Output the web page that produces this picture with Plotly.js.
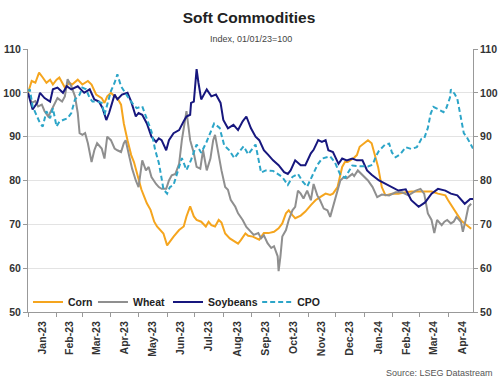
<!DOCTYPE html>
<html>
<head>
<meta charset="utf-8">
<script src="https://cdn.plot.ly/plotly-3.0.1.min.js"></script>
<style>html,body{margin:0;padding:0;background:#fff;}#chart{width:498px;height:381px;}</style>
</head>
<body>
<div id="chart"></div>
<script>
// Observation days, counted from 1 Jan 2023, and index values (01/01/23 = 100)
const cornDays = [0,4,8,12,16,20,24,27,31,34,40,45,48,54,59,65,69,74,80,83,86,90,94,97,101,104,108,112,115,118,123,126,129,133,137,140,144,147,151,155,158,164,169,172,176,180,183,188,193,196,199,203,207,210,214,219,225,228,231,236,239,244,251,256,261,267,272,276,280,283,287,290,296,301,307,312,317,323,328,331,336,338,341,344,347,353,357,360,366,369,373,376,380,384,388,395,402,410,416,424,431,438,445,453,456,461,466,470,475,481];
const cornVals = [100,102.7,102.3,104.6,103.5,102.3,103,101.9,103,103.5,101.2,102.3,101.9,103,101.9,102.7,101.9,99.6,98.8,97.7,99.2,100,99.2,98.8,97.3,93,89.2,85.8,84.2,81.9,78,76.4,74.8,73.3,70.6,69.5,68.7,67.9,65.2,66.4,67.2,68.7,69.5,71.8,74.1,71.8,71,70.6,69.5,70.6,69.8,69.5,71,70.4,67.9,66.8,66,65.6,66.4,67.9,67.4,67.2,66.5,68,68,68.3,69.1,70.2,72.5,73.2,72.1,71.4,72,72.9,74.4,75.5,76.2,77,76.7,77,78.5,80.5,83.1,84.2,84.2,85,85.8,87.7,88.8,89.2,88.5,86.2,83.1,78.5,76.6,77,77,77.3,77.5,77.5,77.5,77.5,77,76.6,75.5,73.9,72.4,70.9,70,69];

const wheatDays = [0,4,8,11,15,18,22,26,29,32,37,40,43,47,51,54,56,59,62,65,69,72,75,80,83,86,90,94,97,101,104,106,110,113,117,120,124,128,131,134,139,142,145,150,153,156,160,164,167,171,172,176,180,183,187,190,194,198,201,203,207,210,214,217,220,225,228,233,237,240,245,250,253,256,260,264,267,271,272,274,276,280,283,287,290,293,296,299,303,307,310,314,317,321,325,328,331,336,339,343,346,352,354,358,363,369,374,379,384,392,399,406,413,421,426,430,434,438,441,444,449,452,455,459,462,465,470,472,475,478,481];
const wheatVals = [100,97.7,98.1,96.9,97.3,95.8,94.6,96.2,97.7,98.8,98,99.2,103.1,101.5,99.2,95.4,90.8,90.4,90.8,88.5,84.2,86.9,88.5,87.3,85,90,89.2,87.3,86.9,86.5,88.5,89.2,85.4,82.7,80,78.5,84.6,82.3,83.1,80.8,79.2,78.5,78.1,78.1,80,81.2,81.5,83.8,89.2,95.4,95.8,89.2,86.2,83.1,82.7,86.9,82.3,85,89.2,90.4,85.4,82.3,78.5,77.9,75.6,74,72.5,71,69.4,68.7,67.6,68,66.8,67.5,65.7,64.6,65,62.7,59.3,62.7,67.2,68.7,71,73.2,74,77.7,77,75.9,77.7,75.5,79.2,76.6,75.5,73.6,73.2,71.7,74,77.7,80,80.8,80.5,81.5,81,82.3,81.2,80,78.5,76.2,76.8,76.6,77.3,77.3,76.6,77.7,78.1,77,72.5,71,68,71,69.8,70.6,71,70.2,70.6,71.7,70.5,68.3,71,74,74.7];

const soyDays = [0,4,5,10,13,18,24,27,32,38,42,47,54,61,67,72,77,81,85,88,94,97,102,108,112,117,120,124,129,134,139,142,145,150,153,158,164,169,172,176,177,180,183,185,188,194,199,204,209,212,217,223,228,233,237,242,247,251,256,261,266,272,278,282,285,290,296,301,307,310,315,319,323,326,331,337,341,346,352,357,363,368,373,381,388,395,402,410,416,424,431,438,445,453,459,466,474,480,483];
const soyVals = [100,96.9,96.2,97.7,100,98.8,98,100.8,101.2,100,101.5,100.8,101.5,100,100.8,98.5,98,96.5,93.8,95.4,99.6,98.5,99.6,100,98,94.6,95.4,95,93,90,88.8,89.6,89.2,86.9,89.2,90.8,91.5,93.5,94.6,95,97.7,98,105.4,102.3,98.5,100.8,99.2,99.6,97.7,93.8,91.9,92.7,91.5,93.5,94.6,91.9,90,89.2,86.9,85.8,84.6,83.5,81.9,81.5,82.3,84.6,83.5,83.5,86.2,87,89.2,88.8,89.2,86.9,86.5,83.8,85,84.6,85,84.6,84.6,82.3,81.3,80,79.2,78.5,77.7,78,75.5,74,75,77,78.1,77.7,77,76.6,74.7,75.8,75.8];

const cpoDays = [0,2,5,10,13,16,20,24,27,31,34,38,43,47,51,56,59,63,67,70,75,80,83,86,90,94,97,101,104,108,113,118,124,128,132,134,138,142,145,147,151,154,158,161,167,172,177,183,188,194,199,202,208,213,218,224,229,234,239,244,247,253,258,266,271,276,282,287,293,298,303,309,314,319,325,328,333,339,344,348,352,357,363,369,374,378,381,388,392,395,399,404,410,416,422,427,430,434,437,440,445,451,454,458,459,463,466,470,473,476,480,483];
const cpoVals = [100.4,100.8,96.9,94.6,93.1,92.3,95.8,94.2,96.5,92.3,93.4,93.8,94.2,95.4,98.5,99.6,101.2,100.8,98.8,98,98,97.7,95,97.3,100.4,102.3,104.2,101.5,100.4,99.2,97.7,96.5,96.9,94.6,92.2,91.2,87,84,80.5,78,77,78.5,79,80.9,85.1,82.4,84.7,88.2,86.3,88.9,91.5,93,92,88,87,85.1,86.5,87.8,86,87.3,88.2,81.8,82.3,82.2,81.5,80.8,79,80.8,81.5,79.8,78.6,81.5,83.5,85,85.3,85.5,84.2,81.3,80.6,82,83.4,83.3,83.2,83.2,83.6,85.7,86.8,88.3,88.4,86.4,85.3,86,87.6,87.2,87.6,89.5,89.6,92,95.2,96.8,96.3,95.6,96.5,98.9,100.8,99.8,98.6,94,90.8,90,88.6,87.3];

const seriesNames = ['Corn','Wheat','Soybeans','CPO'];
const yTicks = [50,60,70,80,90,100,110];

function toDates(days) {
  const base = Date.UTC(2023,0,1);
  return days.map(d => new Date(base + d*86400000).toISOString().slice(0,10));
}

const FONT = 'Liberation Sans, Arial, sans-serif';
const colors = {Corn:'#F5A51E', Wheat:'#8F8F8F', Soybeans:'#17177E', CPO:'#2CA5C8'};
const data = {
  Corn:[cornDays,cornVals], Wheat:[wheatDays,wheatVals],
  Soybeans:[soyDays,soyVals], CPO:[cpoDays,cpoVals]
};
const legendIds = ['legend','legend2','legend3','legend4'];
const legendX = [0.0, 0.146, 0.3146, 0.515];

const traces = seriesNames.map((n,i) => ({
  type:'scatter', mode:'lines', name:n,
  x:toDates(data[n][0]), y:data[n][1],
  yaxis: n==='CPO' ? 'y2' : 'y',
  legend: legendIds[i],
  line:{color:colors[n], width:2, dash: n==='CPO' ? '5px,3px' : 'solid'},
  hoverinfo:'skip'
}));

const axisFont = {family:FONT, size:10.5, color:'#333', weight:'bold'};
const legendFont = {family:FONT, size:10.5, color:'#222', weight:'bold'};

const layout = {
  width:498, height:381,
  margin:{l:28, r:25, t:49, b:69},
  paper_bgcolor:'#fff', plot_bgcolor:'#fff',
  showlegend:true,
  title:{text:'<b>Soft Commodities</b>', x:0.5, xanchor:'center', y:0.953, yanchor:'middle',
         font:{family:FONT, size:15.5, color:'#222'}},
  xaxis:{type:'date', range:['2023-01-01','2024-04-28'], dtick:'M1', tick0:'2023-01-01',
         tickformat:'%b-%y', ticklabelmode:'period', tickangle:-90,
         ticks:'outside', ticklen:4, tickcolor:'#999', showline:true, linecolor:'#999', linewidth:1,
         showgrid:false, zeroline:false, tickfont:axisFont},
  yaxis:{range:[50,110], tickvals:yTicks, ticks:'outside', ticklen:4, tickcolor:'#999',
         showline:true, linecolor:'#999', gridcolor:'#e3e3e3', zeroline:false, tickfont:axisFont},
  yaxis2:{range:[50,110], tickvals:yTicks, overlaying:'y', side:'right', ticks:'outside', ticklen:4,
          tickcolor:'#999', showline:true, linecolor:'#999', showgrid:false, zeroline:false, tickfont:axisFont},
  annotations:[
    {text:'Index, 01/01/23=100', xref:'paper', yref:'paper', x:0.5, y:1.0, yshift:10, xanchor:'center', yanchor:'middle',
     showarrow:false, font:{family:FONT, size:9, color:'#444'}},
    {text:'Source: LSEG Datastream', xref:'paper', yref:'paper', x:1.05, y:0, yshift:-61, xanchor:'right', yanchor:'middle',
     showarrow:false, font:{family:FONT, size:9, color:'#555'}}
  ]
};
legendIds.forEach((id,i) => {
  layout[id] = {orientation:'h', x:legendX[i], y:0.038, xanchor:'left', yanchor:'middle',
                bgcolor:'rgba(0,0,0,0)', font:legendFont, itemwidth:30};
});

Plotly.newPlot('chart', traces, layout, {displayModeBar:false, staticPlot:true});
</script>
</body>
</html>
